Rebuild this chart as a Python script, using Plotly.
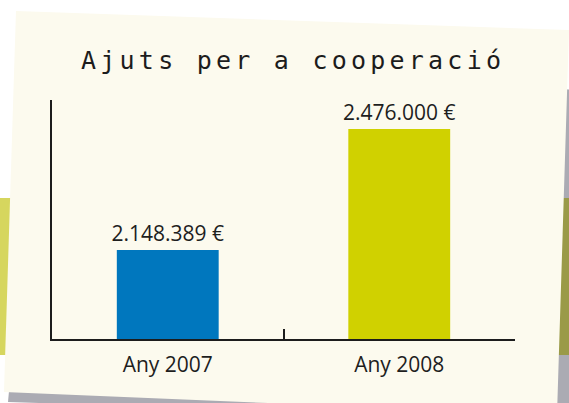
import plotly.graph_objects as go

# ---- data ----
categories = ["Any 2007", "Any 2008"]
values = [2148389, 2476000]
bar_colors = ["#0077be", "#d0d100"]
title_text = "Ajuts per a cooperació"

W, H = 569, 403
L, R, T, B = 52, 54, 100, 64  # plot area margins (pixels)
PW, PH = W - L - R, H - T - B


def px(x):
    return (x - L) / PW


def py(y):
    return (H - B - y) / PH


def path(points):
    return "M " + " L ".join(f"{px(a):.4f},{py(b):.4f}" for a, b in points) + " Z"


fig = go.Figure(
    go.Bar(
        x=categories,
        y=values,
        marker=dict(color=bar_colors, line=dict(width=0)),
        width=0.44,
        texttemplate="%{y:,.0f} €",
        textposition="outside",
        constraintext="none",
        textfont=dict(family="Open Sans", size=21, color="#1e1e1e"),
        cliponaxis=False,
    )
)

# spaced monospace title
sp = '<span style="font-size:7px">\u00a0</span>'
spaced = sp.join(ch if ch != " " else "\u00a0" for ch in title_text)

shapes = [
    # shadow
    dict(type="path", xref="paper", yref="paper",
         path=path([(40, 60), (580, 90), (569, 420), (8, 402)]),
         fillcolor="#ababb3", line=dict(width=0), layer="below"),
    # coloured stripes behind the card
    dict(type="rect", xref="paper", yref="paper", x0=px(-5), x1=px(30),
         y0=py(355), y1=py(198), fillcolor="#d6d65e", line=dict(width=0), layer="below"),
    dict(type="rect", xref="paper", yref="paper", x0=px(540), x1=px(575),
         y0=py(355), y1=py(198), fillcolor="#9a9a48", line=dict(width=0), layer="below"),
    # card
    dict(type="path", xref="paper", yref="paper",
         path=path([(16, 11), (569, 30), (557, 415), (4, 392)]),
         fillcolor="#fcfaee", line=dict(width=0), layer="below"),
]

fig.update_layout(
    width=W,
    height=H,
    margin=dict(l=L, r=R, t=T, b=B, pad=0),
    paper_bgcolor="white",
    plot_bgcolor="rgba(0,0,0,0)",
    separators=",.",
    showlegend=False,
    shapes=shapes,
    annotations=[
        dict(text=spaced, xref="paper", yref="paper", x=px(291), y=py(60),
             xanchor="center", yanchor="middle", showarrow=False,
             font=dict(family="DejaVu Sans Mono", size=25, color="#1c1c1c"))
    ],
    xaxis=dict(
        range=[-0.5, 1.5],
        showline=True, linecolor="#1c1c1c", linewidth=2,
        ticks="inside", tickson="boundaries", ticklen=10, tickwidth=2,
        tickcolor="#1c1c1c", showgrid=False, zeroline=False,
        tickfont=dict(family="Open Sans", size=21, color="#1e1e1e"),
        ticklabelstandoff=6,
    ),
    yaxis=dict(
        range=[1907400, 2554500],
        showline=True, linecolor="#1c1c1c", linewidth=2,
        showticklabels=False, ticks="", showgrid=False, zeroline=False,
    ),
)

fig.write_html("out.html")
